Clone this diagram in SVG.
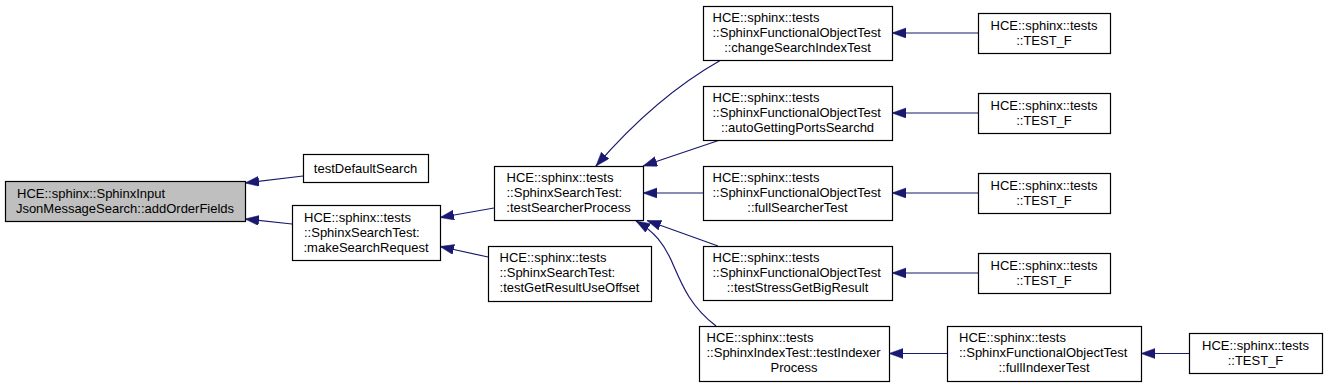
<svg xmlns="http://www.w3.org/2000/svg" width="1328" height="387" viewBox="0 0 1328 387">
<defs>
<marker id="ah" markerUnits="userSpaceOnUse" markerWidth="15" markerHeight="11" refX="14" refY="5" orient="auto">
<path d="M0,0 L14,5 L0,10 z" fill="#191970" stroke="#191970" stroke-width="0.5"/>
</marker>
<style>
.box{fill:#ffffff;stroke:#000000;stroke-width:1.2}
.root{fill:#bfbfbf;stroke:#000000;stroke-width:1.2}
text{font-family:"Liberation Sans",Arial,sans-serif;font-size:13px;fill:#000000}
.m{text-anchor:middle}
.e{fill:none;stroke:#191970;stroke-width:1.2;marker-end:url(#ah)}
</style>
</defs>
<rect width="1328" height="387" fill="#ffffff"/>
<g id="connectors">
<path class="e" d="M303,176 L245,183"/>
<path class="e" d="M292,224 L245,219"/>
<path class="e" d="M494,208 L440,217.5"/>
<path class="e" d="M488,257 L440,246.5"/>
<path class="e" d="M721,60 C682,82 640,115 596,166"/>
<path class="e" d="M720,140 L643,166"/>
<path class="e" d="M703,193 L643,193"/>
<path class="e" d="M718,246 L647,220.5"/>
<path class="e" d="M716,326 C690,306 682,285 672,262 C664,244 655,232 636,221"/>
<path class="e" d="M978,33 L892,33"/>
<path class="e" d="M978,113 L892,113"/>
<path class="e" d="M978,193 L892,193"/>
<path class="e" d="M978,273 L892,273"/>
<path class="e" d="M947,353.5 L889,353.5"/>
<path class="e" d="M1189,353.5 L1141,353.5"/>
</g>
<g id="n0">
<rect class="root" x="5.5" y="181.5" width="240" height="40"/>
<text x="17" y="197.5">HCE::sphinx::SphinxInput</text>
<text class="m" x="125" y="212.5">JsonMessageSearch::addOrderFields</text>
</g>
<g id="n1">
<rect class="box" x="303.5" y="154.5" width="125" height="28"/>
<text class="m" x="365.5" y="172.5">testDefaultSearch</text>
</g>
<g id="n2">
<rect class="box" x="292.5" y="205.5" width="148" height="55"/>
<text x="304" y="221.5">HCE::sphinx::tests</text>
<text x="304" y="236.5">::SphinxSearchTest:</text>
<text class="m" x="366" y="251.5">:makeSearchRequest</text>
</g>
<g id="n3">
<rect class="box" x="494.5" y="166.5" width="149" height="54"/>
<text x="506.5" y="181.5">HCE::sphinx::tests</text>
<text x="506.5" y="196.5">::SphinxSearchTest:</text>
<text class="m" x="568.5" y="211.5">:testSearcherProcess</text>
</g>
<g id="n4">
<rect class="box" x="488.5" y="246.5" width="163" height="55"/>
<text x="499.5" y="262">HCE::sphinx::tests</text>
<text x="499.5" y="277">::SphinxSearchTest:</text>
<text class="m" x="569.5" y="292">:testGetResultUseOffset</text>
</g>
<g id="n5">
<rect class="box" x="703.5" y="6.5" width="189" height="54"/>
<text x="712.5" y="21.5">HCE::sphinx::tests</text>
<text x="712.5" y="36.5">::SphinxFunctionalObjectTest</text>
<text class="m" x="797.5" y="51.5">::changeSearchIndexTest</text>
</g>
<g id="n6">
<rect class="box" x="703.5" y="86.5" width="189" height="54"/>
<text x="712.5" y="101.5">HCE::sphinx::tests</text>
<text x="712.5" y="116.5">::SphinxFunctionalObjectTest</text>
<text class="m" x="797.5" y="131.5">::autoGettingPortsSearchd</text>
</g>
<g id="n7">
<rect class="box" x="703.5" y="166.5" width="189" height="54"/>
<text x="712.5" y="181.5">HCE::sphinx::tests</text>
<text x="712.5" y="196.5">::SphinxFunctionalObjectTest</text>
<text class="m" x="797.5" y="211.5">::fullSearcherTest</text>
</g>
<g id="n8">
<rect class="box" x="703.5" y="246.5" width="189" height="54"/>
<text x="712.5" y="261.5">HCE::sphinx::tests</text>
<text x="712.5" y="276.5">::SphinxFunctionalObjectTest</text>
<text class="m" x="797.5" y="291.5">::testStressGetBigResult</text>
</g>
<g id="n9">
<rect class="box" x="699.5" y="326.5" width="190" height="55"/>
<text x="706.5" y="342">HCE::sphinx::tests</text>
<text x="706.5" y="357">::SphinxIndexTest::testIndexer</text>
<text class="m" x="794" y="372">Process</text>
</g>
<g id="n10">
<rect class="box" x="978.5" y="13.5" width="132" height="40"/>
<text x="990.5" y="29.5">HCE::sphinx::tests</text>
<text class="m" x="1044" y="44.5">::TEST_F</text>
</g>
<g id="n11">
<rect class="box" x="978.5" y="93.5" width="132" height="40"/>
<text x="990.5" y="109.5">HCE::sphinx::tests</text>
<text class="m" x="1044" y="124.5">::TEST_F</text>
</g>
<g id="n12">
<rect class="box" x="978.5" y="173.5" width="132" height="40"/>
<text x="990.5" y="189.5">HCE::sphinx::tests</text>
<text class="m" x="1044" y="204.5">::TEST_F</text>
</g>
<g id="n13">
<rect class="box" x="978.5" y="253.5" width="132" height="40"/>
<text x="990.5" y="269.5">HCE::sphinx::tests</text>
<text class="m" x="1044" y="284.5">::TEST_F</text>
</g>
<g id="n14">
<rect class="box" x="947.5" y="326.5" width="194" height="55"/>
<text x="959" y="342">HCE::sphinx::tests</text>
<text x="959" y="357">::SphinxFunctionalObjectTest</text>
<text class="m" x="1044" y="372">::fullIndexerTest</text>
</g>
<g id="n15">
<rect class="box" x="1189.5" y="333.5" width="133" height="40"/>
<text x="1202" y="349.5">HCE::sphinx::tests</text>
<text class="m" x="1255.5" y="364.5">::TEST_F</text>
</g>
</svg>
